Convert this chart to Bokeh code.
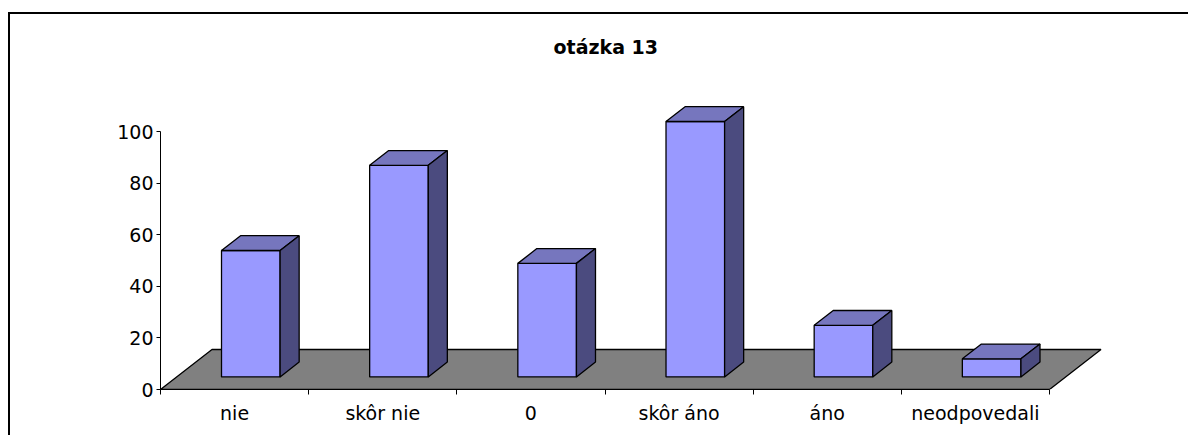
from bokeh.plotting import figure
from bokeh.models import Range1d, FixedTicker
from bokeh.embed import file_html
from bokeh.resources import INLINE

# ---- data ----
categories = ["nie", "skôr nie", "0", "skôr áno", "áno", "neodpovedali"]
values = [49, 82, 44, 99, 20, 7]
y_ticks = [0, 20, 40, 60, 80, 100]
title_text = "otázka 13"

# ---- geometry (pixels per data unit) ----
PXX = 889 / 6.0
PXY = 2.58
FRAME_W, FRAME_H = 958, 321
DX = 51.5 / PXX          # floor depth in x units
DY = 40.0 / PXY          # floor depth in y units
F0, F1 = 0.315, 0.685    # bar depth front/back fraction
BW = 58.6 / PXX          # bar width

FONT = "DejaVu Sans"

p = figure(frame_width=FRAME_W, frame_height=FRAME_H,
           x_range=Range1d(0, FRAME_W / PXX), y_range=Range1d(0, FRAME_H / PXY),
           output_backend="svg", toolbar_location=None,
           min_border_left=150, min_border_right=70, min_border_top=54, min_border_bottom=46,
           outline_line_color=None, background_fill_color="white", border_fill_color="white",
           styles={"border-top": "2px solid black", "border-left": "2px solid black",
                   "margin-top": "12px", "margin-left": "8px"})
p.xgrid.visible = False
p.ygrid.visible = False

# title
p.title.text = title_text
p.title.align = "left"
p.title.offset = 393
p.title.standoff = 21
p.title.text_font = FONT
p.title.text_font_style = "bold"
p.title.text_font_size = "19px"
p.title.text_color = "black"

# floor
ncat = len(categories)
p.patch([0, ncat, ncat + DX, DX], [0, 0, DY, DY], fill_color="#808080",
        line_color="black", line_width=1.3)

front_xs, front_ys, top_xs, top_ys, side_xs, side_ys = [], [], [], [], [], []
bdx = (F1 - F0) * DX
bdy = (F1 - F0) * DY
for i, v in enumerate(values):
    c = i + 0.5
    xl = c + F0 * DX - BW / 2
    xr = xl + BW
    yb = F0 * DY
    yt = yb + v
    front_xs.append([xl, xr, xr, xl]); front_ys.append([yb, yb, yt, yt])
    top_xs.append([xl, xr, xr + bdx, xl + bdx]); top_ys.append([yt, yt, yt + bdy, yt + bdy])
    side_xs.append([xr, xr + bdx, xr + bdx, xr]); side_ys.append([yb, yb + bdy, yt + bdy, yt])

p.patches(front_xs, front_ys, fill_color="#9999FF", line_color="black", line_width=1.3)
p.patches(top_xs, top_ys, fill_color="#7676BE", line_color="black", line_width=1.3)
p.patches(side_xs, side_ys, fill_color="#4B4B7F", line_color="black", line_width=1.3)

# y axis
ya = p.yaxis[0]
ya.ticker = FixedTicker(ticks=y_ticks)
ya.bounds = (0, 100)
ya.major_tick_out = 4
ya.major_tick_in = 0
ya.minor_tick_out = 0
ya.minor_tick_in = 0
ya.major_label_standoff = 3
ya.major_label_text_font = FONT
ya.major_label_text_font_size = "19px"
ya.major_label_text_color = "black"
ya.axis_line_color = "black"

# x axis
xa = p.xaxis[0]
centers = [i + 0.5 for i in range(ncat)]
xa.ticker = FixedTicker(ticks=centers, minor_ticks=list(range(ncat + 1)))
xa.major_label_overrides = {c: lab for c, lab in zip(centers, categories)}
xa.bounds = (0, ncat)
xa.major_tick_out = 0
xa.major_tick_in = 0
xa.minor_tick_out = 5
xa.minor_tick_in = 0
xa.major_label_standoff = 7
xa.major_label_text_font = FONT
xa.major_label_text_font_size = "19px"
xa.major_label_text_color = "black"
xa.axis_line_color = "black"

open("out.html", "w").write(file_html(p, INLINE))
